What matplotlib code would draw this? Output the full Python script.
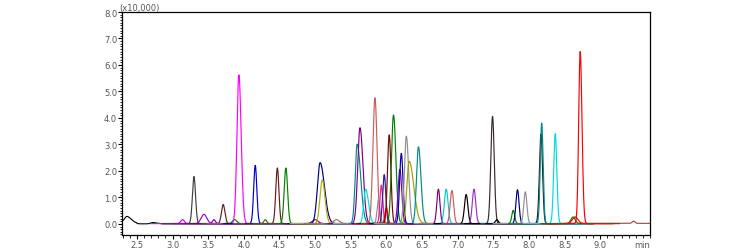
import numpy as np
import matplotlib
matplotlib.use("Agg")
import matplotlib.pyplot as plt
from matplotlib.ticker import MultipleLocator

# peak table: retention time (min), height (x10,000),
# width (sigma, min), tailing factor, trace colour
peak_rt = [3.14, 3.30, 3.44, 3.58, 3.71, 3.87, 3.93, 4.16, 4.30, 4.47,
           4.59, 5.00, 5.07, 5.10, 5.30, 5.59, 5.63, 5.71, 5.84, 5.89,
           5.93, 5.97, 6.00, 6.04, 6.10, 6.19, 6.21, 6.28, 6.32, 6.45,
           6.73, 6.84, 6.92, 7.12, 7.23, 7.49, 7.55, 7.78, 7.84, 7.95,
           8.17, 8.18, 8.37, 8.62, 8.65, 8.72]
peak_height = [0.15, 1.78, 0.35, 0.15, 0.72, 0.15, 5.62, 2.20, 0.15, 2.10,
               2.10, 0.15, 2.30, 1.65, 0.15, 3.00, 3.62, 1.30, 4.75, 0.90,
               1.45, 1.85, 0.60, 3.35, 4.10, 2.05, 2.65, 3.30, 2.35, 2.90,
               1.30, 1.30, 1.25, 1.10, 1.30, 4.05, 0.15, 0.50, 1.28, 1.20,
               3.38, 3.80, 3.40, 0.25, 0.25, 6.50]
peak_width = [0.025, 0.022, 0.040, 0.020, 0.024, 0.030, 0.027, 0.022, 0.020, 0.022,
              0.024, 0.040, 0.038, 0.032, 0.040, 0.027, 0.032, 0.027, 0.029, 0.020,
              0.020, 0.022, 0.020, 0.024, 0.028, 0.026, 0.024, 0.027, 0.032, 0.027,
              0.022, 0.026, 0.024, 0.024, 0.024, 0.024, 0.020, 0.020, 0.022, 0.022,
              0.022, 0.020, 0.022, 0.030, 0.040, 0.021]
peak_tail = [1.0, 1.0, 1.0, 1.0, 1.0, 1.0, 1.2, 1.0, 1.0, 1.0,
             1.0, 1.0, 1.6, 1.2, 1.0, 1.8, 1.3, 1.5, 1.0, 1.0,
             1.0, 1.0, 1.0, 1.0, 1.2, 1.0, 1.0, 1.2, 2.0, 1.3,
             1.0, 1.0, 1.0, 1.0, 1.0, 1.0, 1.0, 1.0, 1.0, 1.0,
             1.0, 1.0, 1.0, 1.0, 1.0, 1.2]
peak_color = ['#E000E0', '#404040', '#9900CC', '#8000A0', '#5A2020', '#008000',
              '#FF00FF', '#0000CC', '#606000', '#6B1A1A', '#008000', '#800080',
              '#000080', '#B0B000', '#CD5C5C', '#008B8B', '#800080', '#00E0E0',
              '#CD5C5C', '#909090', '#FF1493', '#2020A0', '#FF0000', '#800000',
              '#008000', '#8000C0', '#000099', '#909090', '#A0A000', '#008B8B',
              '#800080', '#00CCCC', '#CD5C5C', '#000000', '#9933CC', '#3A2A2A',
              '#000000', '#008000', '#000080', '#909090', '#301010', '#008B8B',
              '#00DDDD', '#008000', '#FF0000', '#FF0000']

# continuous black trace (solvent front) and brown trace at the end of the run
front_rt = [2.36, 2.72]
front_height = [0.22, 0.05]
tail_rt = [9.47]
tail_height = [0.08]


def peak(t, rt, h, w, tail):
    s = np.where(t < rt, w, w * tail)
    return h * np.exp(-0.5 * ((t - rt) / s) ** 2)


fig = plt.figure(figsize=(7.54, 2.51), dpi=100)
ax = fig.add_axes([0.1618, 0.0598, 0.7003, 0.8884])

# black trace across the whole run
t = np.linspace(2.29, 8.9, 1500)
y = 0.1 * np.exp(-(t - 2.29) / 0.15) * (t < 2.5)
for rt, h in zip(front_rt, front_height):
    y = y + peak(t, rt, h, 0.03, 2.0)
ax.plot(t, y, color='black', lw=0.8)

# brown trace at the end
t = np.linspace(8.5, 9.72, 400)
y = 0.02 + sum(peak(t, rt, h, 0.02, 1.0) for rt, h in zip(tail_rt, tail_height))
ax.plot(t, y, color='#A04040', lw=0.8)

for rt, h, w, tl, c in zip(peak_rt, peak_height, peak_width, peak_tail, peak_color):
    t = np.linspace(rt - 0.45, rt + 0.55, 500)
    ax.plot(t, peak(t, rt, h, w, tl) + 0.01, color=c, lw=0.85)

ax.set_xlim(2.29, 9.70)
ax.set_ylim(-0.42, 8.0)
xt = np.arange(2.5, 9.01, 0.5)
yt = np.arange(0, 8.01, 1.0)
ax.set_xticks(xt)
ax.set_xticklabels([f"{v:.1f}" for v in xt])
ax.set_yticks(yt)
ax.set_yticklabels([f"{v:.1f}" for v in yt])
ax.xaxis.set_minor_locator(MultipleLocator(0.1))
ax.yaxis.set_minor_locator(MultipleLocator(0.1))
ax.tick_params(which='major', direction='out', length=3, width=0.8,
               labelsize=6, labelcolor='#555555', pad=0.5)
ax.tick_params(which='minor', direction='out', length=1.8, width=0.6)
for sp in ax.spines.values():
    sp.set_linewidth(0.9)

ax.text(-0.006, 1.0, '(x10,000)', transform=ax.transAxes, ha='left', va='bottom',
        fontsize=6, color='#555555')
ax.text(1.0, -0.022, 'min', transform=ax.transAxes, ha='right', va='top',
        fontsize=6, color='#555555')

fig.savefig('out.png', dpi=100)
